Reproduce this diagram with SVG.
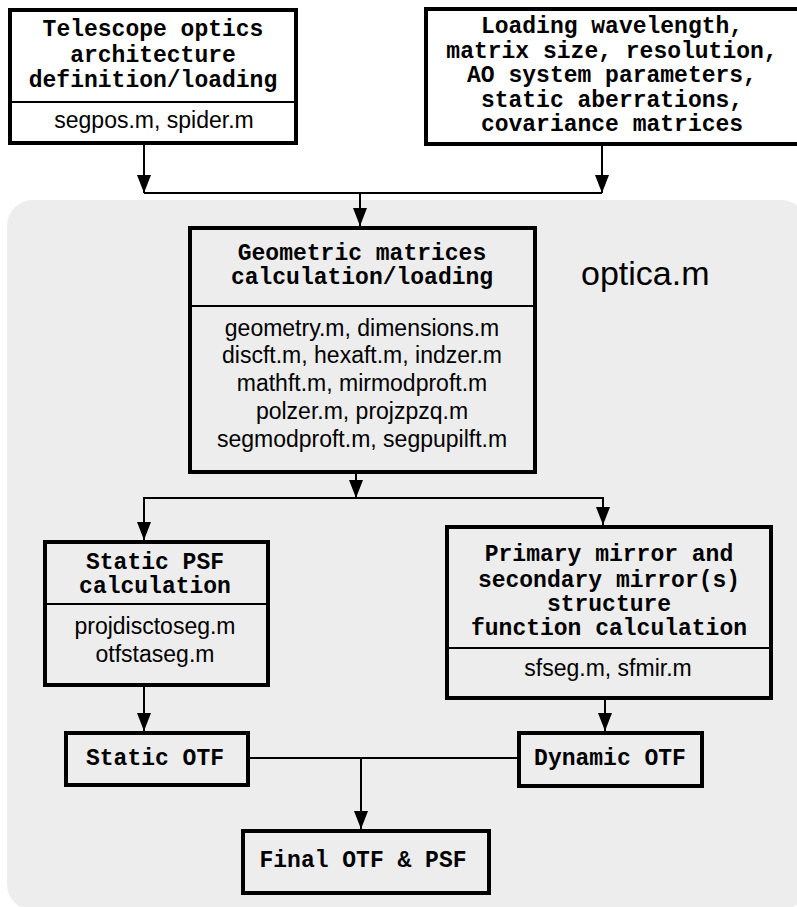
<svg xmlns="http://www.w3.org/2000/svg" width="797" height="907" viewBox="0 0 797 907">
<defs>
<style>
.box{fill:none;stroke:#000;stroke-width:4}
.wbox{fill:#fff;stroke:#000;stroke-width:4}
.div{stroke:#000;stroke-width:2}
.t{font-family:"Liberation Mono",monospace;font-weight:bold;font-size:23px;text-anchor:middle;fill:#000}
.b{font-family:"Liberation Sans",Arial,sans-serif;font-size:23px;text-anchor:middle;fill:#000}
.c{fill:none;stroke:#000;stroke-width:2}
</style>
<marker id="ah" viewBox="0 0 18 14" markerWidth="18" markerHeight="14" refX="18" refY="7" orient="auto" markerUnits="userSpaceOnUse">
<path d="M0,0 L18,7 L0,14 z" fill="#000"/>
</marker>
</defs>
<rect x="7" y="200" width="800" height="710" rx="26" fill="#ededed"/>
<text x="581" y="285" font-family="Liberation Sans,Arial,sans-serif" font-size="34" fill="#000">optica.m</text>

<g id="telescope">
<rect class="wbox" x="10" y="10" width="286" height="133"/>
<line class="div" x1="10" y1="102" x2="296" y2="102"/>
<text class="t" x="153" y="36">Telescope optics</text>
<text class="t" x="153" y="61.5">architecture</text>
<text class="t" x="153" y="87">definition/loading</text>
<text class="b" x="154" y="128">segpos.m, spider.m</text>
</g>

<g id="loading">
<rect class="wbox" x="426" y="9" width="373" height="135"/>
<text class="t" x="612" y="33">Loading wavelength,</text>
<text class="t" x="612" y="58">matrix size, resolution,</text>
<text class="t" x="612" y="82">AO system parameters,</text>
<text class="t" x="612" y="107">static aberrations,</text>
<text class="t" x="612" y="131">covariance matrices</text>
</g>

<g id="geometric">
<rect class="box" x="190" y="228" width="345" height="244"/>
<line class="div" x1="190" y1="306" x2="535" y2="306"/>
<text class="t" x="362" y="260">Geometric matrices</text>
<text class="t" x="362" y="284">calculation/loading</text>
<text class="b" x="362" y="336">geometry.m, dimensions.m</text>
<text class="b" x="362" y="363">discft.m, hexaft.m, indzer.m</text>
<text class="b" x="362" y="391">mathft.m, mirmodproft.m</text>
<text class="b" x="362" y="419">polzer.m, projzpzq.m</text>
<text class="b" x="362" y="447">segmodproft.m, segpupilft.m</text>
</g>

<g id="staticpsf">
<rect class="box" x="45" y="542" width="223" height="143"/>
<line class="div" x1="45" y1="604" x2="268" y2="604"/>
<text class="t" x="155" y="569">Static PSF</text>
<text class="t" x="155" y="593">calculation</text>
<text class="b" x="155" y="634">projdisctoseg.m</text>
<text class="b" x="155" y="662">otfstaseg.m</text>
</g>

<g id="primary">
<rect class="box" x="447" y="527" width="324" height="171"/>
<line class="div" x1="447" y1="648" x2="771" y2="648"/>
<text class="t" x="609" y="561">Primary mirror and</text>
<text class="t" x="609" y="587">secondary mirror(s)</text>
<text class="t" x="609" y="611">structure</text>
<text class="t" x="609" y="635">function calculation</text>
<text class="b" x="608" y="676">sfseg.m, sfmir.m</text>
</g>

<g id="staticotf">
<rect class="box" x="66" y="733" width="182" height="52"/>
<text class="t" x="155" y="765">Static OTF</text>
</g>

<g id="dynamicotf">
<rect class="box" x="519" y="733" width="183" height="53"/>
<text class="t" x="610" y="765">Dynamic OTF</text>
</g>

<g id="final">
<rect class="box" x="243" y="831" width="246" height="62"/>
<text class="t" x="363" y="867">Final OTF &amp; PSF</text>
</g>

<g id="connectors">
<line class="c" x1="144" y1="145" x2="144" y2="193" marker-end="url(#ah)"/>
<line class="c" x1="602" y1="146" x2="602" y2="193" marker-end="url(#ah)"/>
<line class="c" x1="144" y1="193" x2="602" y2="193"/>
<line class="c" x1="360" y1="193" x2="360" y2="226" marker-end="url(#ah)"/>
<line class="c" x1="356" y1="474" x2="356" y2="498" marker-end="url(#ah)"/>
<polyline class="c" points="144,540 144,498 603,498 603,525" marker-end="url(#ah)"/>
<line class="c" x1="144" y1="498" x2="144" y2="540" marker-end="url(#ah)"/>
<line class="c" x1="144" y1="687" x2="144" y2="731" marker-end="url(#ah)"/>
<line class="c" x1="605" y1="700" x2="605" y2="731" marker-end="url(#ah)"/>
<line class="c" x1="250" y1="758" x2="517" y2="758"/>
<line class="c" x1="361" y1="758" x2="361" y2="829" marker-end="url(#ah)"/>
</g>
</svg>
